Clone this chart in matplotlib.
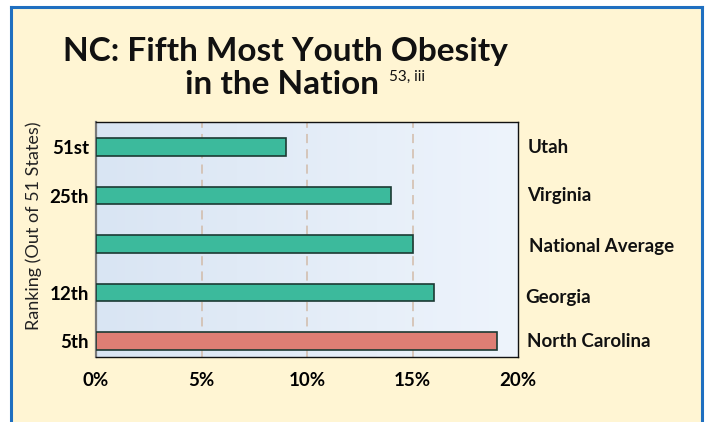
#!/usr/bin/env python3
# -*- coding: utf-8 -*-
"""Youth obesity ranking bar chart."""

import numpy as np
import matplotlib
matplotlib.use('Agg')
import matplotlib.pyplot as plt
from matplotlib.patches import Rectangle
from matplotlib.lines import Line2D

# data (bottom to top)
states = ['North Carolina', 'Georgia', 'National Average', 'Virginia', 'Utah']
rank_labels = ['5th', '12th', '', '25th', '51st']
obesity_pct = [19, 16, 15, 14, 9]
bar_colors = ['#df7e74', '#3cba9c', '#3cba9c', '#3cba9c', '#3cba9c']
xticks = [0, 5, 10, 15, 20]

plt.rcParams['font.family'] = ['Lato', 'DejaVu Sans']

fig = plt.figure(figsize=(7.05, 4.22), dpi=100)
fig.patch.set_facecolor('white')

# page-like yellow panel with a blue border (left, top, right)
W, H = 705, 422
def fx(px):
    return px / W
def fy(py):
    return 1 - py / H

fig.patches.append(Rectangle((fx(10), 0), fx(702) - fx(10), fy(6), transform=fig.transFigure,
                             facecolor='#fff5d3', edgecolor='none', zorder=-10))
for xs, ys in [([fx(10.5), fx(10.5)], [0, fy(6.5)]),
               ([fx(10.5), fx(702)], [fy(6.5), fy(6.5)]),
               ([fx(702), fx(702)], [fy(6.5), 0])]:
    fig.lines.append(Line2D(xs, ys, transform=fig.transFigure, color='#1f6fc0', lw=2.2,
                            zorder=-5))

ax = fig.add_axes([fx(96), fy(357), fx(518) - fx(96), fy(122) - fy(357)])

ypos = np.arange(len(states))
ylo, yhi = -0.33, len(states) - 1 + 0.52
ax.set_xlim(0, 20)
ax.set_ylim(ylo, yhi)

# background gradient
grad = np.linspace(0, 1, 256).reshape(1, -1)
cmap = matplotlib.colors.LinearSegmentedColormap.from_list('bg', ['#d9e5f3', '#eef4fc'])
ax.imshow(grad, cmap=cmap, aspect='auto', extent=(0, 20, ylo, yhi), zorder=0)

for x in xticks[1:-1]:
    ax.axvline(x, color='#d2bba9', lw=1.1, ls=(0, (6, 4)), zorder=1)

ax.barh(ypos, obesity_pct, height=0.36, color=bar_colors, edgecolor='#1c3a33',
        linewidth=1.2, zorder=3)

ax.set_xticks(xticks)
ax.set_xticklabels([f'{x}%' for x in xticks], fontsize=13.5, fontweight='bold')
ax.set_yticks(ypos)
ax.set_yticklabels(rank_labels, fontsize=13.5, fontweight='bold')
ax.tick_params(length=0, pad=5)
ax.tick_params(axis='x', pad=11)

for s in ['top', 'right', 'bottom']:
    ax.spines[s].set_color('#111111')
    ax.spines[s].set_linewidth(1.0)
ax.spines['left'].set_color('#7a7a7a')
ax.spines['left'].set_linewidth(1.6)

# right side labels (small vertical offsets as in the original layout)
label_dy = [0.0, -0.1, -0.04, 0.0, 0.0]
label_dx = [0.0, -0.005, 0.005, 0.0, 0.0]
for y, name, dy, dx in zip(ypos, states, label_dy, label_dx):
    ax.text(1.022 + dx, y + dy, name, transform=ax.get_yaxis_transform(), fontsize=13.5,
            fontweight='bold', va='center', ha='left', color='#111111')

ax.set_ylabel('Ranking (Out of 51 States)', fontsize=13, color='#222222')
ax.yaxis.set_label_coords(-0.128, 0.56)

# title
fig.text(fx(285), fy(52), 'NC: Fifth Most Youth Obesity', fontsize=24, fontweight='bold',
         ha='center', va='center', color='#111111')
fig.text(fx(282), fy(84), 'in the Nation', fontsize=24, fontweight='bold',
         ha='center', va='center', color='#111111')
fig.text(fx(389), fy(77), '53, iii', fontsize=11, ha='left', va='center', color='#111111')

fig.savefig('out.png', dpi=100)
